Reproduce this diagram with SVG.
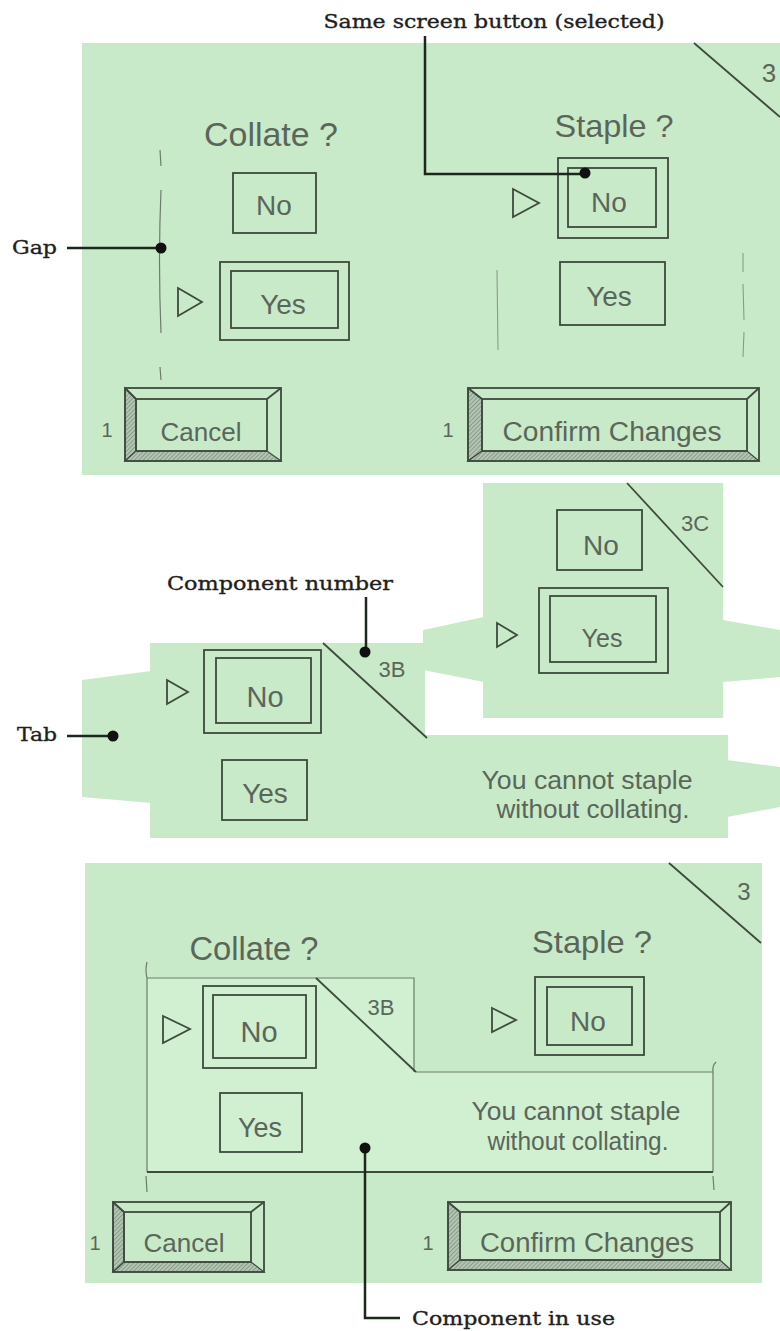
<svg xmlns="http://www.w3.org/2000/svg" width="780" height="1331" viewBox="0 0 780 1331">
<defs>
<style>
.panel{fill:#c9eac9}
.inset{fill:#d1efd1}
.ink{fill:none;stroke:#3e4a3e;stroke-width:1.8}
.thin{fill:none;stroke:#6c7c6c;stroke-width:1.2}
.faint{fill:none;stroke:#8a9a8a;stroke-width:1.1}
.hand{font-family:"Liberation Sans",Arial,sans-serif;fill:#5b665b}
.note{font-family:"DejaVu Serif","Liberation Serif",serif;fill:#1f1f1f;stroke:#1f1f1f;stroke-width:0.35;font-size:18px}
.lead{fill:none;stroke:#1d281d;stroke-width:2.5}
.dot{fill:#111}
.hatch{fill:url(#hatch);stroke:#3e4a3e;stroke-width:1.2}
</style>
<pattern id="hatch" width="3" height="3" patternUnits="userSpaceOnUse" patternTransform="rotate(45)">
<rect width="3" height="3" fill="#b3c6b3"/>
<line x1="0" y1="0" x2="0" y2="3" stroke="#5f6f5f" stroke-width="1"/>
</pattern>
</defs>
<rect width="780" height="1331" fill="#ffffff"/>

<!-- Top screen 3 -->
<g id="screen-3-top">
<rect class="panel" x="82" y="43" width="698" height="432"/>
<line class="ink" x1="694" y1="43" x2="780" y2="117"/>
<text class="hand" x="769" y="82" font-size="26" text-anchor="middle">3</text>
<text class="hand" x="271" y="146" font-size="34" text-anchor="middle" textLength="134" lengthAdjust="spacingAndGlyphs">Collate ?</text>
<text class="hand" x="614" y="137" font-size="32" text-anchor="middle" textLength="119" lengthAdjust="spacingAndGlyphs">Staple ?</text>
<!-- gap bracket -->
<path class="thin" d="M160 150 L161 166 M161 190 Q158 260 161 333 M160 367 L161 380"/>
<path class="faint" d="M497 270 L498 350 M743 253 L743 272 M743 284 L744 320 M744 332 L743 357"/>
<!-- left column -->
<rect class="ink" x="233" y="173" width="83" height="60"/>
<text class="hand" x="274" y="215" font-size="28" text-anchor="middle">No</text>
<polygon class="ink" points="178,288 202,302 178,316"/>
<rect class="ink" x="220" y="262" width="129" height="78"/>
<rect class="ink" x="231" y="271" width="107" height="57"/>
<text class="hand" x="283" y="314" font-size="28" text-anchor="middle">Yes</text>
<!-- right column -->
<polygon class="ink" points="513,189 539,203 513,217"/>
<rect class="ink" x="558" y="158" width="110" height="80"/>
<rect class="ink" x="568" y="168" width="88" height="59"/>
<text class="hand" x="609" y="212" font-size="28" text-anchor="middle">No</text>
<rect class="ink" x="560" y="262" width="105" height="63"/>
<text class="hand" x="609" y="306" font-size="28" text-anchor="middle">Yes</text>
<!-- buttons -->
<text class="hand" x="107" y="437" font-size="20" text-anchor="middle">1</text>
<polygon class="hatch" points="125,388 136,399 136,451 125,461"/>
<polygon class="hatch" points="125,461 136,451 267,451 281,461"/>
<rect class="ink" x="125" y="388" width="156" height="73"/>
<rect class="ink" x="136" y="399" width="131" height="52"/>
<path class="ink" d="M125 388 L136 399 M281 388 L267 399"/>
<text class="hand" x="201" y="441" font-size="26" text-anchor="middle">Cancel</text>
<text class="hand" x="448" y="437" font-size="20" text-anchor="middle">1</text>
<polygon class="hatch" points="468,388 482,399 482,451 468,461"/>
<polygon class="hatch" points="468,461 482,451 747,451 759,461"/>
<rect class="ink" x="468" y="388" width="291" height="73"/>
<rect class="ink" x="482" y="399" width="265" height="52"/>
<path class="ink" d="M468 388 L482 399 M759 388 L747 399"/>
<text class="hand" x="612" y="441" font-size="27" text-anchor="middle" textLength="219" lengthAdjust="spacingAndGlyphs">Confirm Changes</text>
</g>

<!-- Component 3C -->
<g id="component-3c">
<polygon class="panel" points="423,630 484,617 484,682 423,670"/>
<polygon class="panel" points="723,620 780,630 780,677 723,682"/>
<rect class="panel" x="483" y="483" width="240" height="235"/>
<line class="ink" x1="627" y1="483" x2="723" y2="587"/>
<text class="hand" x="695" y="531" font-size="22" text-anchor="middle">3C</text>
<rect class="ink" x="557" y="510" width="85" height="60"/>
<text class="hand" x="601" y="555" font-size="28" text-anchor="middle">No</text>
<polygon class="ink" points="497,623 517,635 497,647"/>
<rect class="ink" x="539" y="588" width="129" height="85"/>
<rect class="ink" x="550" y="596" width="106" height="66"/>
<text class="hand" x="602" y="647" font-size="25" text-anchor="middle">Yes</text>
</g>

<!-- Component 3B -->
<g id="component-3b">
<polygon class="panel" points="82,680 151,671 151,803 82,797"/>
<polygon class="panel" points="727,760 780,767 780,807 727,817"/>
<polygon class="panel" points="150,643 425,643 425,735 728,735 728,838 150,838"/>
<line class="ink" x1="323" y1="643" x2="427" y2="738"/>
<text class="hand" x="392" y="677" font-size="22" text-anchor="middle">3B</text>
<polygon class="ink" points="167,680 188,692 167,704"/>
<rect class="ink" x="204" y="650" width="117" height="83"/>
<rect class="ink" x="216" y="658" width="95" height="65"/>
<text class="hand" x="265" y="707" font-size="29" text-anchor="middle">No</text>
<rect class="ink" x="222" y="760" width="85" height="60"/>
<text class="hand" x="265" y="803" font-size="28" text-anchor="middle">Yes</text>
<text class="hand" x="587" y="789" font-size="25" text-anchor="middle" textLength="211" lengthAdjust="spacingAndGlyphs">You cannot staple</text>
<text class="hand" x="593" y="818" font-size="25" text-anchor="middle" textLength="193" lengthAdjust="spacingAndGlyphs">without collating.</text>
</g>

<!-- Bottom screen 3 with component in use -->
<g id="screen-3-bottom">
<rect class="panel" x="85" y="863" width="677" height="420"/>
<polygon class="inset" points="147,978 414,978 414,1072 713,1072 713,1172 147,1172"/>
<line class="ink" x1="669" y1="863" x2="761" y2="943"/>
<text class="hand" x="744" y="900" font-size="24" text-anchor="middle">3</text>
<text class="hand" x="254" y="960" font-size="34" text-anchor="middle" textLength="129" lengthAdjust="spacingAndGlyphs">Collate ?</text>
<text class="hand" x="592" y="953" font-size="32" text-anchor="middle" textLength="120" lengthAdjust="spacingAndGlyphs">Staple ?</text>
<!-- inset outline and brackets -->
<path class="thin" d="M147 978 L414 978 L414 1072 M416 1072 L713 1072"/>
<path class="thin" d="M147 962 Q145 970 147 978 L147 1172 M146 1176 L147 1192"/>
<path class="thin" d="M716 1062 Q712 1066 713 1072 L713 1172 M713 1176 L714 1190"/>
<line class="ink" x1="147" y1="1172" x2="713" y2="1172" stroke-width="2"/>
<line class="ink" x1="316" y1="978" x2="416" y2="1072"/>
<text class="hand" x="381" y="1015" font-size="22" text-anchor="middle">3B</text>
<polygon class="ink" points="163,1016 190,1029 163,1043"/>
<rect class="ink" x="203" y="986" width="113" height="82"/>
<rect class="ink" x="213" y="995" width="93" height="63"/>
<text class="hand" x="259" y="1042" font-size="29" text-anchor="middle">No</text>
<rect class="ink" x="220" y="1093" width="82" height="59"/>
<text class="hand" x="260" y="1137" font-size="27" text-anchor="middle">Yes</text>
<text class="hand" x="576" y="1120" font-size="25" text-anchor="middle" textLength="209" lengthAdjust="spacingAndGlyphs">You cannot staple</text>
<text class="hand" x="578" y="1150" font-size="25" text-anchor="middle" textLength="181" lengthAdjust="spacingAndGlyphs">without collating.</text>
<polygon class="ink" points="492,1008 516,1020 492,1032"/>
<rect class="ink" x="535" y="977" width="109" height="78"/>
<rect class="ink" x="547" y="987" width="85" height="58"/>
<text class="hand" x="588" y="1031" font-size="28" text-anchor="middle">No</text>
<!-- buttons -->
<text class="hand" x="95" y="1250" font-size="20" text-anchor="middle">1</text>
<polygon class="hatch" points="113,1202 124,1212 124,1262 113,1272"/>
<polygon class="hatch" points="113,1272 124,1262 251,1262 264,1272"/>
<rect class="ink" x="113" y="1202" width="151" height="70"/>
<rect class="ink" x="124" y="1212" width="127" height="50"/>
<path class="ink" d="M113 1202 L124 1212 M264 1202 L251 1212"/>
<text class="hand" x="184" y="1252" font-size="26" text-anchor="middle">Cancel</text>
<text class="hand" x="428" y="1250" font-size="20" text-anchor="middle">1</text>
<polygon class="hatch" points="448,1202 460,1212 460,1260 448,1270"/>
<polygon class="hatch" points="448,1270 460,1260 720,1260 731,1270"/>
<rect class="ink" x="448" y="1202" width="283" height="68"/>
<rect class="ink" x="460" y="1212" width="260" height="48"/>
<path class="ink" d="M448 1202 L460 1212 M731 1202 L720 1212"/>
<text class="hand" x="587" y="1252" font-size="27" text-anchor="middle" textLength="214" lengthAdjust="spacingAndGlyphs">Confirm Changes</text>
</g>

<!-- Annotation labels -->
<g id="labels">
<text class="note" x="494" y="28" text-anchor="middle" textLength="341" lengthAdjust="spacingAndGlyphs">Same screen button (selected)</text>
<text class="note" x="12" y="254" textLength="45" lengthAdjust="spacingAndGlyphs">Gap</text>
<text class="note" x="280" y="590" text-anchor="middle" textLength="226" lengthAdjust="spacingAndGlyphs">Component number</text>
<text class="note" x="17" y="741" textLength="40" lengthAdjust="spacingAndGlyphs">Tab</text>
<text class="note" x="412" y="1325" textLength="203" lengthAdjust="spacingAndGlyphs">Component in use</text>
</g>

<!-- Connectors (leader lines) -->
<g id="connectors">
<path class="lead" d="M425 36 L425 174 L585 174"/>
<circle class="dot" cx="585" cy="173" r="5.5"/>
<path class="lead" d="M67 248 L161 248"/>
<circle class="dot" cx="161" cy="248" r="5.5"/>
<path class="lead" d="M366 597 L366 652"/>
<circle class="dot" cx="365" cy="652" r="5.5"/>
<path class="lead" d="M67 736 L113 736"/>
<circle class="dot" cx="113" cy="736" r="5.5"/>
<path class="lead" d="M365 1148 L365 1318 L400 1318"/>
<circle class="dot" cx="365" cy="1148" r="5.5"/>
</g>
</svg>
